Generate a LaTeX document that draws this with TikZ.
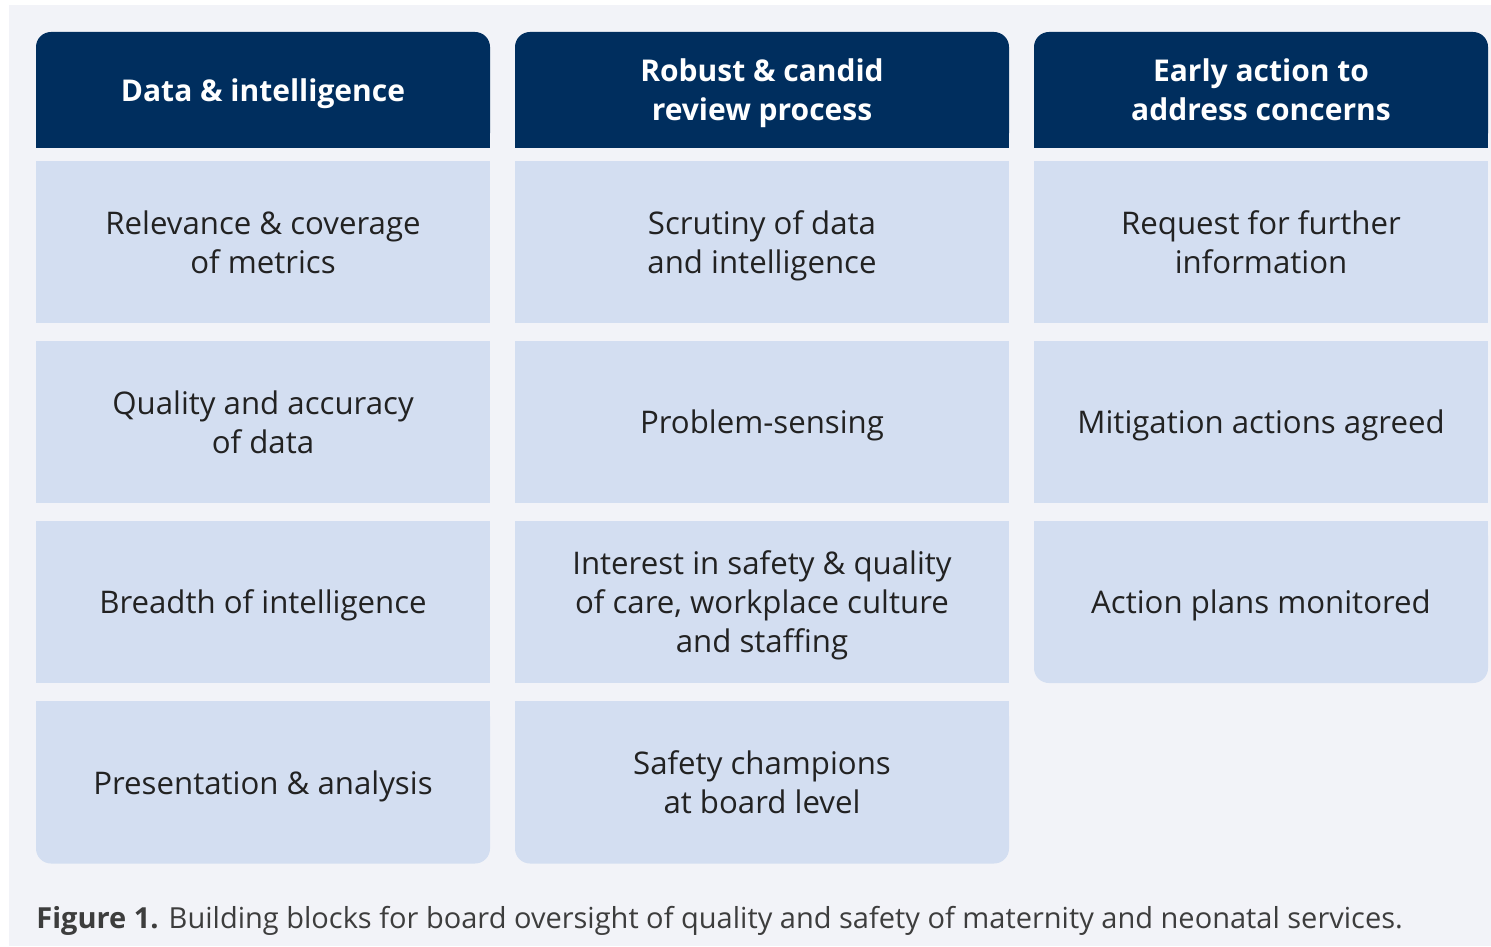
\documentclass[tikz,border=0pt]{standalone}
\usepackage{fontspec}
\setmainfont{Open Sans}
\usetikzlibrary{backgrounds}
\definecolor{navy}{HTML}{002E5E}
\definecolor{cellblue}{HTML}{D3DEF1}
\definecolor{paper}{HTML}{F2F3F8}
\definecolor{ink}{HTML}{222222}
\definecolor{capink}{HTML}{3D3D3D}

\begin{document}
\begin{tikzpicture}[x=0.5pt, y=-0.5pt,
    head/.style={fill=navy, text=white, align=center, inner sep=0pt, text depth=0pt,
      font=\bfseries\fontsize{15}{19.5}\selectfont, minimum height=58pt},
    cell/.style={fill=cellblue, text=ink, align=center, inner sep=0pt, text depth=0pt,
      font=\fontsize{15.6}{19.5}\selectfont, minimum height=81pt},
    narrowcol/.style={minimum width=227pt},
    widecol/.style={minimum width=247pt},
    roundbox/.style={rounded corners=7.5pt}]
    \useasboundingbox (0,0) rectangle (1491,946);
    % Column headings
    \node[head, narrowcol, roundbox] (h1) at (263,90) {Data \& intelligence};
    \node[head, widecol, roundbox]   (h2) at (762,90) {Robust \& candid\\review process};
    \node[head, narrowcol, roundbox] (h3) at (1261,90) {Early action to\\address concerns};
    % First column
    \node[cell, narrowcol] (c11) at (263,242) {Relevance \& coverage\\of metrics};
    \node[cell, narrowcol] (c12) at (263,422) {Quality and accuracy\\of data};
    \node[cell, narrowcol] (c13) at (263,602) {Breadth of intelligence};
    \node[cell, narrowcol, roundbox] (c14) at (263,782.5) {Presentation \& analysis};
    % Second column
    \node[cell, widecol] (c21) at (762,242) {Scrutiny of data\\and intelligence};
    \node[cell, widecol] (c22) at (762,422) {Problem-sensing};
    \node[cell, widecol] (c23) at (762,602) {Interest in safety \& quality\\of care, workplace culture\\and staffing};
    \node[cell, widecol, roundbox] (c24) at (762,782.5) {Safety champions\\at board level};
    % Third column
    \node[cell, narrowcol] (c31) at (1261,242) {Request for further\\information};
    \node[cell, narrowcol] (c32) at (1261,422) {Mitigation actions agreed};
    \node[cell, narrowcol, roundbox] (c33) at (1261,602) {Action plans monitored};
    % Caption
    \node[anchor=base west, inner sep=0pt, text=capink, font=\fontsize{14.5}{17}\selectfont]
      (caption) at (36,928) {\textbf{Figure 1.} Building blocks for board oversight of quality and safety of maternity and neonatal services.};
    % Paper and square corners behind the blocks
    \begin{scope}[on background layer]
      \fill[white] (0,0) rectangle (1491,946);
      \fill[paper] (9,5) rectangle (1491,946);
      \foreach \h in {h1,h2,h3}
        \fill[navy] (\h.west) rectangle (\h.south east);
      \foreach \c in {c14,c24,c33}
        \fill[cellblue] (\c.north west) rectangle (\c.east);
    \end{scope}
\end{tikzpicture}
\end{document}
